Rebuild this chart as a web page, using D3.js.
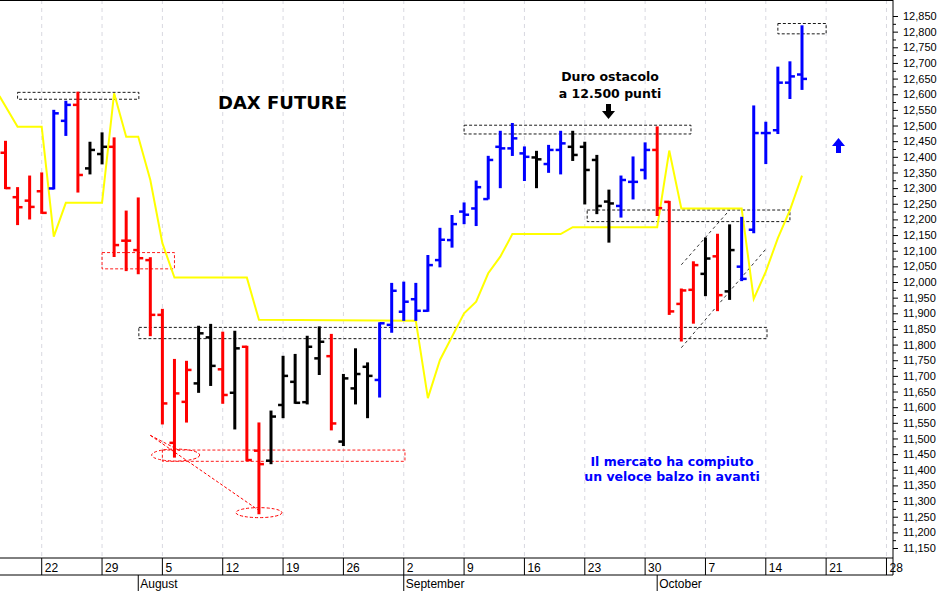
<!DOCTYPE html>
<html><head><meta charset="utf-8">
<script src="https://cdn.jsdelivr.net/npm/d3@7"></script>
<style>body{margin:0;background:#fff}svg{display:block}</style>
</head><body><div id="chart"></div>
<script>
// DAX future daily bars, 19 Jul - 18 Oct 2017 (index = trading day)
var opens  = [12413,12271,12260,12290,12299,12515,12566,12363,12409,12432,12132,12102,12070,11895,11486,11617,11676,11823,11721,11646,11793,11461,11429,11607,11681,11616,11756,11763,11490,11660,11729,11687,11863,
              11905,11945,11908,12070,12134,12225,12235,12265,12432,12427,12411,12398,12377,12422,12432,12432,12390,12257,12243,12320,12358,12422,12256,11930,11975,12026,12082,11970,12049,12167,12476,12485,12637,12663];
var highs  = [12448,12300,12337,12347,12547,12576,12605,12445,12475,12459,12225,12267,12076,11911,11751,11745,11857,11863,11838,11841,11793,11548,11586,11761,11767,11825,11855,11831,11703,11785,11740,11868,11994,
              11998,11994,12083,12170,12211,12251,12321,12400,12480,12505,12430,12416,12435,12480,12480,12445,12403,12292,12337,12398,12443,12494,12256,11976,12063,12139,12151,12181,12205,12561,12509,12685,12702,12817];
var lows   = [12300,12185,12203,12221,12299,12470,12289,12347,12379,12083,12038,12028,11830,11548,11442,11554,11649,11671,11614,11532,11431,11261,11421,11568,11614,11612,11706,11529,11479,11612,11568,11634,11841,
              11879,11879,11908,12050,12113,12188,12182,12267,12303,12406,12326,12303,12352,12347,12390,12251,12220,12129,12209,12267,12331,12214,11898,11813,11870,11958,11910,11946,12006,12159,12380,12476,12588,12617];
var closes = [12300,12239,12240,12221,12539,12566,12342,12422,12432,12118,12132,12076,11895,11612,11644,11719,11836,11732,11639,11788,11431,11418,11570,11700,11614,11793,11809,11548,11692,11706,11700,11868,11972,
              11937,11908,12054,12135,12185,12215,12303,12390,12427,12459,12400,12392,12422,12443,12406,12358,12243,12251,12326,12320,12422,12236,11906,11973,12054,12075,11958,12102,12010,12476,12476,12637,12657,12649];
var barColors = "rrrrbbrkkrrrrrrrkkrkrrkkkkkrkkkbbbbbbbbbbbbbkbbkkkkbbbrrrrkrkbbbbbb";
var colorMap = {r:"#ff0000", b:"#0000ff", k:"#000000"};

// yellow line (index, value)
var lineIdx = [-0.5,1,3,4,5,8,9,10,11,12,13,14,20,21,34,35,36,38,39,40,41,42,46,47,54,55,56,61,62,63,64,65,66];
var lineVal = [12594,12496,12496,12145,12253,12253,12603,12464,12464,12326,12124,12014,12014,11879,11876,11629,11751,11900,11937,12028,12081,12153,12153,12175,12175,12420,12235,12235,11946,12033,12140,12230,12340];

var weekIdx    = [3,8,13,18,23,28,33,38,43,48,53,58,63,68,73];
var weekLabels = ["22","29","5","12","19","26","2","9","16","23","30","7","14","21","28"];
var monthIdx    = [11,33,54];
var monthLabels = ["August","September","October"];

// dashed boxes: [idx0, idx1, valTop, valBottom, colour]
var boxes = [
  [1,11.05,12606,12584,"#000"],
  [8,14,12094,12042,"red"],
  [11.05,63.1,11855,11819,"#000"],
  [13,33.1,11463,11427,"red"],
  [38,56.8,12501,12473,"#000"],
  [48.2,65,12230,12193,"#000"],
  [64,68,12826,12793,"#000"]
];
// channel lines: [idx0, val0, idx1, val1]
var channel = [[56,12055,60,12230],[56,11790,63,12105]];

var W = 942, H = 591, plotR = 893, plotB = 558;
var svg = d3.select("#chart").append("svg").attr("width", W).attr("height", H);
var x = d3.scaleLinear().domain([0,66]).range([5.5,802]);
var y = d3.scaleLinear().domain([11150,12850]).range([548,16]);

svg.append("clipPath").attr("id","c").append("rect").attr("x",0).attr("y",0).attr("width",plotR).attr("height",plotB);
var g = svg.append("g").attr("clip-path","url(#c)");

// grid
g.selectAll(".grid").data(weekIdx).enter().append("line")
  .attr("x1", d => x(d)).attr("x2", d => x(d)).attr("y1",0).attr("y2",plotB)
  .attr("stroke","#d8d8e0").attr("stroke-dasharray","4,4");

// boxes
g.selectAll(".box").data(boxes).enter().append("rect")
  .attr("x", d => x(d[0])).attr("width", d => x(d[1]) - x(d[0]))
  .attr("y", d => y(d[2])).attr("height", d => y(d[3]) - y(d[2]))
  .attr("fill","none").attr("stroke", d => d[4]).attr("stroke-dasharray","3,2").attr("stroke-width",0.9);

// red ellipses and connector
g.append("ellipse").attr("cx", x(14.1)).attr("cy", y(11447)).attr("rx",24).attr("ry",6)
  .attr("fill","none").attr("stroke","red").attr("stroke-dasharray","3,2");
g.append("ellipse").attr("cx", x(21)).attr("cy", y(11263)).attr("rx",23).attr("ry",5)
  .attr("fill","none").attr("stroke","red").attr("stroke-dasharray","3,2");
g.append("line").attr("x1", x(12)).attr("y1", y(11510)).attr("x2", x(21)).attr("y2", y(11270))
  .attr("stroke","red").attr("stroke-dasharray","3,2");
g.append("line").attr("x1", x(12)).attr("y1", y(11510)).attr("x2", x(14.5)).attr("y2", y(11460))
  .attr("stroke","red").attr("stroke-dasharray","3,2");

// channel lines
g.selectAll(".ch").data(channel).enter().append("line")
  .attr("x1",d=>x(d[0])).attr("y1",d=>y(d[1])).attr("x2",d=>x(d[2])).attr("y2",d=>y(d[3]))
  .attr("stroke","#000").attr("stroke-dasharray","3,3").attr("stroke-width",0.8);

// yellow line
var ld = lineIdx.map((d,i) => [d, lineVal[i]]);
g.append("path").datum(ld)
  .attr("d", d3.line().x(d => x(d[0])).y(d => y(d[1])))
  .attr("fill","none").attr("stroke","#ffff00").attr("stroke-width",2);

// OHLC bars
var bars = g.selectAll(".bar").data(opens).enter().append("g")
  .attr("stroke", (d,i) => colorMap[barColors[i]]).attr("stroke-width",3);
bars.append("line").attr("x1",(d,i)=>x(i)).attr("x2",(d,i)=>x(i))
  .attr("y1",(d,i)=>y(highs[i])-1).attr("y2",(d,i)=>y(lows[i])+1);
bars.append("line").attr("x1",(d,i)=>x(i)-5).attr("x2",(d,i)=>x(i))
  .attr("y1",(d,i)=>y(opens[i])).attr("y2",(d,i)=>y(opens[i])).attr("stroke-width",2.5);
bars.append("line").attr("x1",(d,i)=>x(i)).attr("x2",(d,i)=>x(i)+5)
  .attr("y1",(d,i)=>y(closes[i])).attr("y2",(d,i)=>y(closes[i])).attr("stroke-width",2.5);

// texts
svg.append("text").attr("x",218).attr("y",109).text("DAX FUTURE")
  .attr("font-family","DejaVu Sans").attr("font-weight","bold").attr("font-size",18);
var t1 = svg.append("text").attr("font-family","DejaVu Sans").attr("font-weight","bold").attr("font-size",12.5).attr("text-anchor","middle");
t1.append("tspan").attr("x",610).attr("y",81).text("Duro ostacolo");
t1.append("tspan").attr("x",610).attr("y",98).text("a 12.500 punti");
svg.append("path").attr("d","M606,104 h5 v7 h4 l-6.5,8 l-6.5,-8 h4 z").attr("fill","#000");
var t2 = svg.append("text").attr("font-family","DejaVu Sans").attr("font-weight","bold").attr("font-size",12.5)
  .attr("text-anchor","middle").attr("fill","#0000ff");
t2.append("tspan").attr("x",672).attr("y",466).text("Il mercato ha compiuto");
t2.append("tspan").attr("x",672).attr("y",481).text("un veloce balzo in avanti");
svg.append("path").attr("d","M836,153 v-7 h-4 l6.5,-8 l6.5,8 h-4 v7 z").attr("fill","#0000ff");

// right axis
var yAxis = d3.axisRight(y).tickValues(d3.range(11150,12851,50)).tickSize(5).tickPadding(5);
var ya = svg.append("g").attr("transform","translate("+plotR+",0)").call(yAxis);
ya.select(".domain").remove();
ya.selectAll("text").attr("font-family","Liberation Sans, Arial").attr("font-size",11).attr("fill","#000");
var yMinor = d3.axisRight(y).tickValues(d3.range(11175,12851,50)).tickSize(3).tickFormat("");
svg.append("g").attr("transform","translate("+plotR+",0)").call(yMinor).select(".domain").remove();

// frame
svg.append("line").attr("x1",plotR).attr("x2",plotR).attr("y1",0).attr("y2",plotB+17).attr("stroke","#000");
svg.append("line").attr("x1",0).attr("x2",plotR).attr("y1",0.5).attr("y2",0.5).attr("stroke","#000");
svg.append("line").attr("x1",0).attr("x2",plotR).attr("y1",plotB).attr("y2",plotB).attr("stroke","#000");
svg.append("line").attr("x1",0).attr("x2",plotR).attr("y1",plotB+17).attr("y2",plotB+17).attr("stroke","#000");

// bottom labels
var xa = svg.append("g");
xa.selectAll("line").data(weekIdx).enter().append("line")
  .attr("x1",d=>x(d)).attr("x2",d=>x(d)).attr("y1",plotB).attr("y2",plotB+17).attr("stroke","#000");
xa.selectAll("text").data(weekIdx).enter().append("text")
  .attr("x",d=>x(d)+3).attr("y",plotB+14).text((d,i)=>weekLabels[i])
  .attr("font-family","Liberation Sans, Arial").attr("font-size",12);
var ma = svg.append("g");
ma.selectAll("line").data(monthIdx).enter().append("line")
  .attr("x1",d=>x(d)).attr("x2",d=>x(d)).attr("y1",plotB+17).attr("y2",H).attr("stroke","#000");
ma.selectAll("text").data(monthIdx).enter().append("text")
  .attr("x",d=>x(d)+2).attr("y",plotB+30).text((d,i)=>monthLabels[i])
  .attr("font-family","Liberation Sans, Arial").attr("font-size",12);
</script></body></html>
